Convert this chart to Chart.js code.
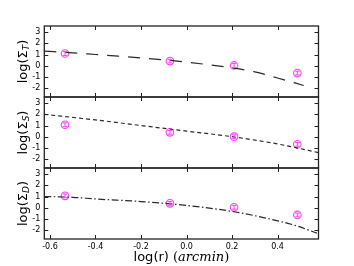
<!DOCTYPE html>
<html><head><meta charset="utf-8">
<script src="https://cdn.jsdelivr.net/npm/chart.js@4.4.0/dist/chart.umd.min.js"></script>
<style>
html,body{margin:0;padding:0;background:#fff;}
#wrap{position:relative;width:354px;height:266px;background:#fff;}
canvas{position:absolute;left:0;top:0;}
</style>
</head><body>
<div id="wrap">
<canvas id="c1" width="354" height="266"></canvas>
<canvas id="c2" width="354" height="266"></canvas>
<canvas id="c3" width="354" height="266"></canvas>
</div>
<script>
// ---- data ----
const xTicks = [-0.6, -0.4, -0.2, 0.0, 0.2, 0.4];
const yTicks = [-2, -1, 0, 1, 2, 3];
const obsLogR = [-0.534, -0.073, 0.209, 0.487];
const sigmaT = [1.09, 0.41, 0.02, -0.66];
const sigmaS = [1.07, 0.39, 0.00, -0.68];
const sigmaD = [1.06, 0.39, 0.04, -0.65];
const obsErr = [0.17, 0.17, 0.17, 0.17];
const modelT_x = [-0.625, -0.5, -0.4, -0.3, -0.2, -0.1, 0.0, 0.1, 0.2, 0.3, 0.4, 0.515];
const modelT_y = [1.30, 1.15, 1.0, 0.85, 0.7, 0.52, 0.32, 0.08, -0.2, -0.55, -1.1, -1.77];
const modelS_x = [-0.625, -0.4, -0.2, 0.0, 0.2, 0.4, 0.582];
const modelS_y = [2.0, 1.5, 1.0, 0.5, 0.0, -0.65, -1.43];
const modelD_x = [-0.625, -0.5, -0.4, -0.2, 0.0, 0.2, 0.37, 0.485, 0.573];
const modelD_y = [1.0, 0.93, 0.78, 0.55, 0.2, -0.33, -1.03, -1.63, -2.28];

const W = 354, H = 266;
const LEFT = 44.3, RIGHT = 318.5;
const panels = [
  {id:'c1', top:26, bottom:97, obs:sigmaT, mx:modelT_x, my:modelT_y, dash:[12,9], sub:'T', showX:false},
  {id:'c2', top:97, bottom:168, obs:sigmaS, mx:modelS_x, my:modelS_y, dash:[4,3], sub:'S', showX:false},
  {id:'c3', top:168, bottom:239, obs:sigmaD, mx:modelD_x, my:modelD_y, dash:[7,2.5,1.5,2.5], sub:'D', showX:true}
];
const XAXIS_H = 16, YAXIS_W = 20;
const MAG = '#ff3cff';

const framePlugin = {
  id: 'frame',
  afterDatasetsDraw(chart) {
    const ctx = chart.ctx, a = chart.chartArea;
    const xs = chart.scales.x, ys = chart.scales.y;
    chart.data.datasets.forEach((ds, i) => {
      if (!ds.yErr) return;
      ctx.save();
      ctx.strokeStyle = MAG; ctx.lineWidth = 1;
      ds.data.forEach((p, j) => {
        const px = xs.getPixelForValue(p.x);
        const y1 = ys.getPixelForValue(p.y - ds.yErr[j]);
        const y2 = ys.getPixelForValue(p.y + ds.yErr[j]);
        ctx.beginPath();
        ctx.moveTo(px, y1); ctx.lineTo(px, y2);
        ctx.moveTo(px - 2.5, y1); ctx.lineTo(px + 2.5, y1);
        ctx.moveTo(px - 2.5, y2); ctx.lineTo(px + 2.5, y2);
        ctx.stroke();
      });
      ctx.restore();
    });
  },
  afterDraw(chart, args, opts) {
    const ctx = chart.ctx, a = chart.chartArea;
    const xs = chart.scales.x, ys = chart.scales.y;
    ctx.save();
    ctx.strokeStyle = '#222';
    ctx.lineWidth = 1.3;
    ctx.strokeRect(a.left, a.top, a.right - a.left, a.bottom - a.top);
    ctx.lineWidth = 1;
    ctx.beginPath();
    xTicks.forEach(v => {
      const px = Math.round(xs.getPixelForValue(v)) + 0.5;
      ctx.moveTo(px, a.top); ctx.lineTo(px, a.top + 4);
      ctx.moveTo(px, a.bottom); ctx.lineTo(px, a.bottom - 4);
    });
    yTicks.forEach(v => {
      const py = Math.round(ys.getPixelForValue(v)) + 0.5;
      ctx.moveTo(a.left, py); ctx.lineTo(a.left + 4, py);
      ctx.moveTo(a.right, py); ctx.lineTo(a.right - 4, py);
    });
    ctx.stroke();
    ctx.fillStyle = '#000';
    ctx.translate(24, (a.top + a.bottom) / 2);
    ctx.rotate(-Math.PI / 2);
    ctx.textBaseline = 'middle';
    const parts = [
      ['log(', '13px "DejaVu Sans"', 0],
      ['\u03A3', '13px "DejaVu Sans"', 0],
      [opts.sub, 'italic 9px "DejaVu Sans"', 3],
      [')', '13px "DejaVu Sans"', 0]
    ];
    let tw = 0;
    parts.forEach(p => { ctx.font = p[1]; p.w = ctx.measureText(p[0]).width; tw += p.w; });
    let x = -tw / 2;
    parts.forEach(p => { ctx.font = p[1]; ctx.fillText(p[0], x, p[2]); x += p.w; });
    ctx.restore();
    if (opts.showX) {
      ctx.save();
      ctx.fillStyle = '#000';
      ctx.textBaseline = 'middle';
      const xp = [
        ['log(r) ', '13px "DejaVu Sans"'],
        ['(', '13px "DejaVu Serif"'],
        ['arcmin', 'italic 13px "DejaVu Serif"'],
        [')', '13px "DejaVu Serif"']
      ];
      let t = 0;
      xp.forEach(p => { ctx.font = p[1]; p.w = ctx.measureText(p[0]).width; t += p.w; });
      let xx = (a.left + a.right) / 2 - t / 2;
      xp.forEach(p => { ctx.font = p[1]; ctx.fillText(p[0], xx, 257.5); xx += p.w; });
      ctx.restore();
    }
  }
};

panels.forEach(p => {
  const bottomPad = p.showX ? (H - p.bottom - XAXIS_H) : (H - p.bottom);
  new Chart(document.getElementById(p.id), {
    type: 'scatter',
    data: {
      datasets: [
        {
          data: p.mx.map((x, i) => ({x: x, y: p.my[i]})),
          showLine: true, pointRadius: 0, borderColor: '#2a2a2a', borderWidth: 1.2,
          borderDash: p.dash, fill: false, cubicInterpolationMode: 'monotone'
        },
        {
          data: obsLogR.map((x, i) => ({x: x, y: p.obs[i]})),
          yErr: obsErr,
          pointStyle: 'circle', pointRadius: 3.8, pointBorderWidth: 1.1,
          borderColor: MAG, backgroundColor: 'rgba(0,0,0,0)', pointBackgroundColor: 'rgba(0,0,0,0)'
        }
      ]
    },
    options: {
      responsive: false, animation: false, devicePixelRatio: 1,
      layout: {padding: {left: LEFT - YAXIS_W, right: W - RIGHT, top: p.top, bottom: bottomPad}},
      plugins: {legend: {display: false}, tooltip: {enabled: false}, frame: {sub: p.sub, showX: p.showX}},
      scales: {
        x: {
          type: 'linear', min: -0.625, max: 0.58, display: p.showX,
          grid: {display: false, drawTicks: false}, border: {display: false},
          afterBuildTicks: s => { s.ticks = xTicks.map(v => ({value: v})); },
          afterFit: s => { if (p.showX) s.height = XAXIS_H; },
          ticks: {font: {family: 'DejaVu Sans', size: 8}, color: '#000', padding: 3, maxRotation: 0, autoSkip: false,
                  callback: v => (Math.abs(v) < 1e-9 ? 0 : v).toFixed(1)}
        },
        y: {
          type: 'linear', min: -2.8, max: 3.55,
          grid: {display: false, drawTicks: false}, border: {display: false},
          afterBuildTicks: s => { s.ticks = yTicks.map(v => ({value: v})); },
          afterFit: s => { s.width = YAXIS_W; },
          ticks: {font: {family: 'DejaVu Sans', size: 8}, color: '#000', padding: 4, autoSkip: false,
                  callback: v => String(v)}
        }
      }
    },
    plugins: [framePlugin]
  });
});
</script>
</body></html>
